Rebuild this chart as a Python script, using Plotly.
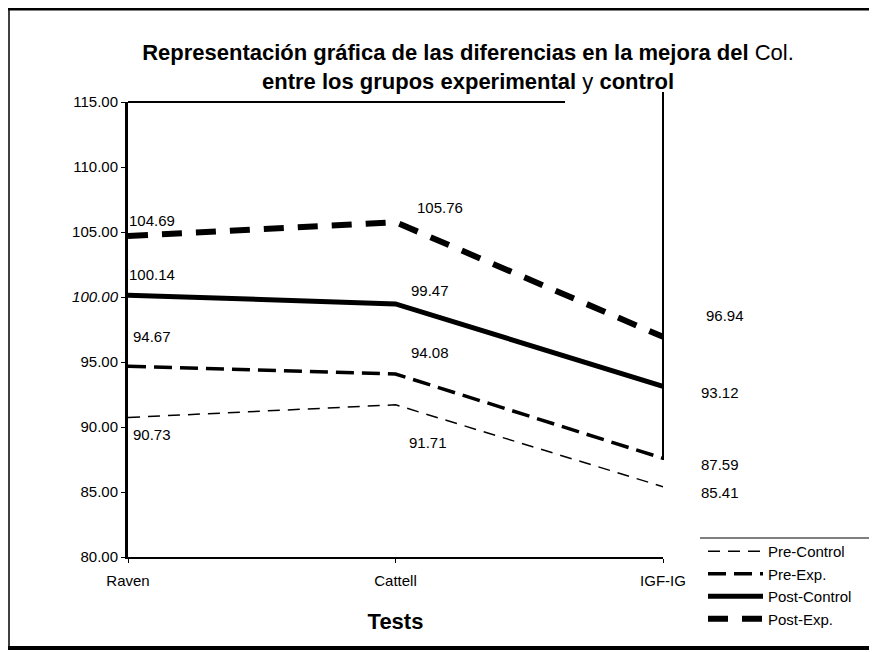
import plotly.graph_objects as go

tests = ["Raven", "Cattell", "IGF-IG"]
pre_control = [90.73, 91.71, 85.41]
pre_exp = [94.67, 94.08, 87.59]
post_control = [100.14, 99.47, 93.12]
post_exp = [104.69, 105.76, 96.94]
series_names = ["Pre-Control", "Pre-Exp.", "Post-Control", "Post-Exp."]

y_ticks = [80, 85, 90, 95, 100, 105, 110, 115]
y_tick_text = ["80.00", "85.00", "90.00", "95.00", "<i>100.00</i>", "105.00", "110.00", "115.00"]

OFF = 8  # page body margin
W, H = 877 - OFF, 652 - OFF
L, T = 128 - OFF, 102 - OFF
R = W - (663 - OFF)
B = H - (557 - OFF)
pw, ph = W - L - R, H - T - B

def px_x(p):
    return (p - OFF - L) / pw

def px_y(p):
    return (H - B - (p - OFF)) / ph

SANS = "Liberation Sans, Arial, sans-serif"

fig = go.Figure()
styles = [
    dict(width=1.5, dash="12px,8px"),
    dict(width=3.5, dash="18px,8px"),
    dict(width=5, dash="solid"),
    dict(width=6, dash="20px,14px"),
]
for name, vals, st in zip(series_names, [pre_control, pre_exp, post_control, post_exp], styles):
    fig.add_trace(go.Scatter(x=tests, y=vals, mode="lines", name=name,
                             line=dict(color="black", **st)))

label_font = dict(family=SANS, size=15, color="black")
raven_off = {"pre_control": (24, -17), "pre_exp": (24, 30), "post_control": (24, 21), "post_exp": (24, 16)}
cattell_off = {"pre_control": (32, -38), "pre_exp": (34, 21), "post_control": (34, 13), "post_exp": (44, 15)}
igf_off = {"pre_control": (57, -6), "pre_exp": (57, -6), "post_control": (57, -6), "post_exp": (62, 21)}
series_map = {"pre_control": pre_control, "pre_exp": pre_exp, "post_control": post_control, "post_exp": post_exp}
for key, vals in series_map.items():
    for i, off in enumerate([raven_off[key], cattell_off[key], igf_off[key]]):
        fig.add_annotation(x=tests[i], y=vals[i], text=f"{vals[i]:.2f}", showarrow=False,
                           xshift=off[0], yshift=off[1], font=label_font)

line_black = dict(color="black", width=2)
shapes = [
    dict(type="line", xref="paper", yref="paper", x0=px_x(8), x1=px_x(877), y0=px_y(9), y1=px_y(9),
         line=dict(color="black", width=3)),
    dict(type="line", xref="paper", yref="paper", x0=px_x(9), x1=px_x(9), y0=px_y(8), y1=px_y(648),
         line=dict(color="black", width=1.5)),
    dict(type="line", xref="paper", yref="paper", x0=px_x(8), x1=px_x(877), y0=px_y(648), y1=px_y(648),
         line=dict(color="black", width=4)),
    dict(type="line", xref="paper", yref="paper", x0=0, x1=px_x(565), y0=1, y1=1, line=line_black),
    dict(type="line", xref="paper", yref="paper", x0=1, x1=1, y0=px_y(460), y1=px_y(92), line=line_black),
    dict(type="line", xref="paper", yref="paper", x0=px_x(700), x1=px_x(870), y0=px_y(538), y1=px_y(538),
         line=dict(color="black", width=1)),
]

fig.update_layout(
    width=W, height=H,
    margin=dict(l=L, r=R, t=T, b=B),
    paper_bgcolor="white", plot_bgcolor="white",
    font=dict(family=SANS, color="black", size=15),
    title=dict(text="<b>Representación gráfica de las diferencias en la mejora del</b> Col.<br>"
                    "<b>entre los grupos experimental</b> y <b>control</b>",
               x=(468 - OFF) / W, xanchor="center", y=1 - (60 - OFF) / H, yanchor="middle",
               font=dict(size=22, family=SANS)),
    xaxis=dict(type="category", categoryorder="array", categoryarray=tests, range=[0, 2],
               showline=True, linecolor="black", linewidth=2, showgrid=False, zeroline=False,
               ticks="outside", ticklen=4, tickcolor="black", tickfont=dict(size=15),
               ticklabelstandoff=5,
               title=dict(text="<b>Tests</b>", font=dict(size=22), standoff=26)),
    yaxis=dict(range=[80, 115], tickvals=y_ticks, ticktext=y_tick_text,
               showline=True, linecolor="black", linewidth=3, showgrid=False, zeroline=False,
               ticks="outside", ticklen=4, tickcolor="black", tickfont=dict(size=15)),
    legend=dict(x=px_x(703), y=px_y(535), xanchor="left", yanchor="top",
                bgcolor="rgba(0,0,0,0)", font=dict(size=15), tracegroupgap=6,
                itemwidth=55),
    shapes=shapes,
    showlegend=True,
)

fig.write_html("out.html")
